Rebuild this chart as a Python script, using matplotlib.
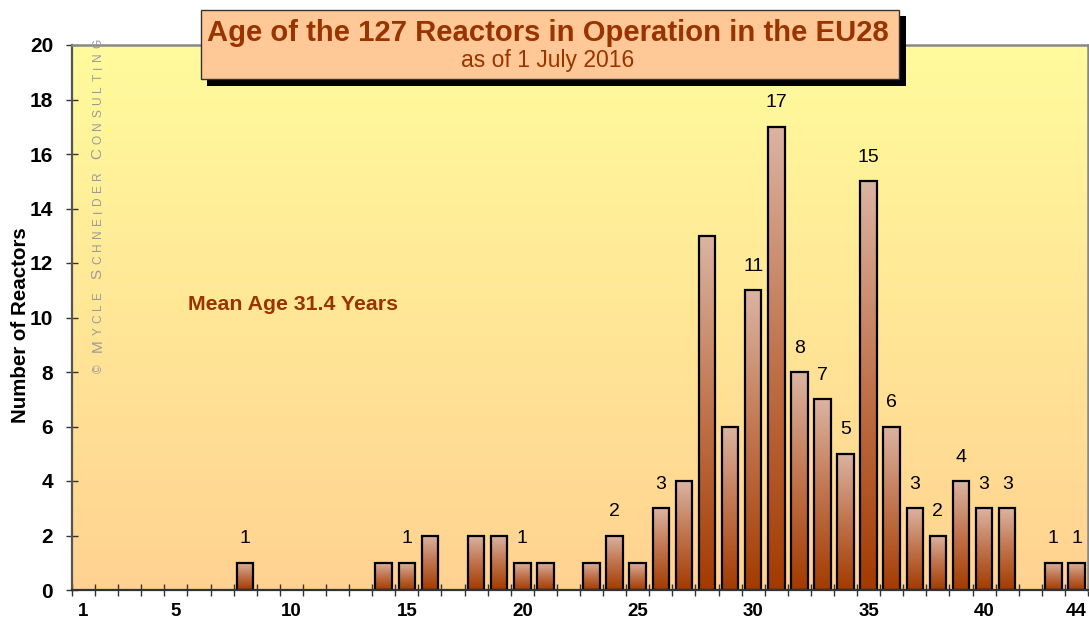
import numpy as np
import matplotlib
matplotlib.use("Agg")
import matplotlib.pyplot as plt
from matplotlib.colors import LinearSegmentedColormap
from matplotlib.patches import Rectangle

plt.rcParams['font.family'] = ['Liberation Sans', 'DejaVu Sans']

# ---- data -------------------------------------------------------------
ages = list(range(1, 45))
counts = [0, 0, 0, 0, 0, 0, 0, 1, 0, 0,
          0, 0, 0, 1, 1, 2, 0, 2, 2, 1,
          1, 0, 1, 2, 1, 3, 4, 13, 6, 11,
          17, 8, 7, 5, 15, 6, 3, 2, 4, 3,
          3, 0, 1, 1]
labelled_ages = [8, 15, 20, 24, 26, 30, 31, 32, 33, 34, 35, 36, 37, 38,
                 39, 40, 41, 43, 44]
x_tick_labels = [1, 5, 10, 15, 20, 25, 30, 35, 40, 44]
y_ticks = list(range(0, 21, 2))
title = "Age of the 127 Reactors in Operation in the EU28"
subtitle = "as of 1 July 2016"
mean_note = "Mean Age 31.4 Years"
y_label = "Number of Reactors"
credit = "\u00a9 Mycle Schneider Consulting"

# ---- styling ----------------------------------------------------------
W, H = 1089, 620
BROWN = "#993300"
bg_cmap = LinearSegmentedColormap.from_list("bg", ["#ffd291", "#fffb9c"])
bar_cmap = LinearSegmentedColormap.from_list("bar", ["#a33a00", "#c0734c", "#dbb4a2"])


def fx(x):
    return x / W


def fy(y):
    return 1 - y / H


fig = plt.figure(figsize=(W / 100, H / 100), dpi=100)
ax = fig.add_axes([fx(72), fy(590), (1088 - 72) / W, (590 - 45) / H])
ax.set_facecolor("none")

# plot-area gradient
grad = np.linspace(0, 1, 256).reshape(-1, 1)
ax.imshow(grad, extent=(0, 1, 0, 1), transform=ax.transAxes, cmap=bg_cmap,
          aspect="auto", origin="lower", zorder=0, interpolation="bilinear")

ages_arr = np.array(ages)
counts_arr = np.array(counts)
mask = counts_arr > 0
bars = ax.bar(ages_arr[mask], counts_arr[mask], width=0.72, facecolor="none",
              edgecolor="black", linewidth=1.6, zorder=3)

# vertical gradient inside every bar
for p in bars.patches:
    x0, w, h = p.get_x(), p.get_width(), p.get_height()
    ax.imshow(grad, extent=(x0, x0 + w, 0, h), cmap=bar_cmap, aspect="auto",
              origin="lower", zorder=2, interpolation="bilinear")

# value labels
for a in labelled_ages:
    v = counts[ages.index(a)]
    ax.annotate(str(v), (a, v), xytext=(0, 14), textcoords="offset points",
                ha="center", va="baseline", fontsize=14, color="black",
                zorder=4)

ax.set_xlim(0.5, 44.5)
ax.set_ylim(0, 20)

ax.set_xticks(x_tick_labels)
ax.set_xticklabels([str(t) for t in x_tick_labels], fontweight="bold")
ax.set_xticks(np.arange(0.5, 45, 1), minor=True)
ax.tick_params(axis="x", which="major", length=0, pad=9.5, labelsize=13.5)
ax.tick_params(axis="x", which="minor", direction="inout", length=9,
               width=1, color="#333333")
ax.set_yticks(y_ticks)
ax.set_yticklabels([str(t) for t in y_ticks], fontweight="bold")
ax.tick_params(axis="y", which="major", direction="inout", length=9,
               width=1, color="#333333", labelsize=15, pad=9)

for side in ("top", "right"):
    ax.spines[side].set_color("#888888")
    ax.spines[side].set_linewidth(1.8)
ax.spines["left"].set_color("#555555")
ax.spines["left"].set_linewidth(1.6)
ax.spines["bottom"].set_color("#333333")
ax.spines["bottom"].set_linewidth(1.6)
for s in ax.spines.values():
    s.set_zorder(5)

# mean-age note
ax.text((188 - 72) / 1016, (590 - 310) / 545, mean_note, transform=ax.transAxes,
        fontsize=15.3, fontweight="bold", color=BROWN, ha="left",
        va="baseline", zorder=4)

# y-axis title
fig.text(fx(21), fy(325), y_label, rotation=90, ha="center", va="center",
         fontsize=14.8, fontweight="bold")

# title box with drop shadow
fig.patches.append(Rectangle((fx(207), fy(86)), (906 - 207) / W, (86 - 16) / H,
                             transform=fig.transFigure, facecolor="black",
                             edgecolor="none", zorder=10))
fig.patches.append(Rectangle((fx(201), fy(79)), (899 - 201) / W, (79 - 10) / H,
                             transform=fig.transFigure, facecolor="#ffc896",
                             edgecolor="#333333", linewidth=1, zorder=11))
fig.text(fx(548), fy(41), title, ha="center", va="baseline", fontsize=21.1,
         fontweight="bold", color=BROWN, zorder=12)
fig.text(fx(548), fy(67), subtitle, ha="center", va="baseline", fontsize=16.5,
         color=BROWN, zorder=12)

# rotated small-caps credit line, set letter by letter with wide tracking
fig.canvas.draw()
renderer = fig.canvas.get_renderer()
glyphs = []
for ch in credit:
    big = ch.isupper()
    size = 11 if big else 8.6
    t = fig.text(0, 0, ch.upper(), rotation=90, rotation_mode="anchor",
                 ha="left", va="baseline", fontsize=size, color="#9a9a9a",
                 zorder=6)
    glyphs.append((t, t.get_window_extent(renderer).height))
y_start, y_end = 373, 39
natural = sum(h for _, h in glyphs)
track = (y_start - y_end - natural) / (len(glyphs) - 1)
ypos = y_start
for t, h in glyphs:
    t.set_position((fx(101.5), fy(ypos)))
    ypos -= h + track

fig.savefig("out.png", dpi=100)
